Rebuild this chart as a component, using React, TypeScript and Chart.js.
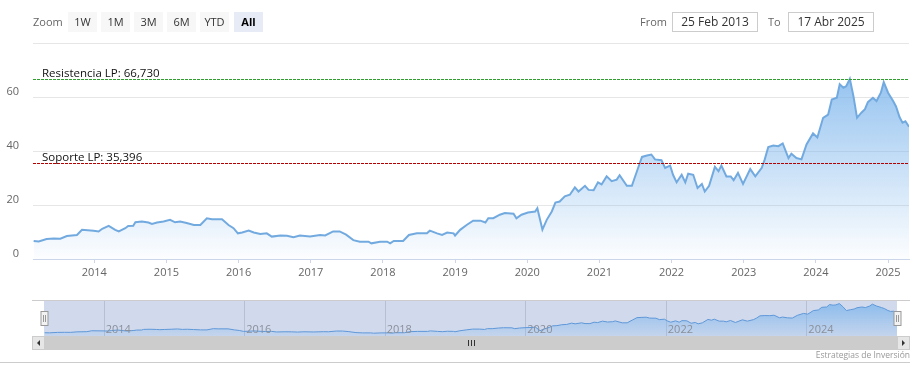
import React, { useEffect, useRef } from 'react';
import { Chart, registerables } from 'chart.js';

Chart.register(...registerables);

// ---- data (decimal years and prices) ----
const years = [
  2013.16, 2013.23, 2013.34, 2013.44, 2013.53, 2013.62, 2013.76, 2013.83, 2013.99,
  2014.06, 2014.11, 2014.20, 2014.29, 2014.34, 2014.43, 2014.47, 2014.54, 2014.57, 2014.66, 2014.75, 2014.80, 2014.87, 2014.96,
  2015.05, 2015.12, 2015.19, 2015.28, 2015.38, 2015.47, 2015.56, 2015.63, 2015.77, 2015.86, 2015.93, 2015.99,
  2016.05, 2016.14, 2016.21, 2016.30, 2016.39, 2016.46, 2016.58, 2016.67, 2016.76, 2016.85, 2016.99,
  2017.13, 2017.20, 2017.31, 2017.40, 2017.49, 2017.59, 2017.68, 2017.80, 2017.84, 2017.96,
  2018.06, 2018.10, 2018.15, 2018.28, 2018.36, 2018.47, 2018.61, 2018.65, 2018.75, 2018.82, 2018.89, 2018.98,
  2019.00, 2019.07, 2019.16, 2019.25, 2019.35, 2019.42, 2019.46, 2019.53, 2019.62, 2019.69, 2019.81, 2019.85, 2019.92,
  2020.01, 2020.11, 2020.14, 2020.21, 2020.27, 2020.34, 2020.39, 2020.45, 2020.52, 2020.59, 2020.66, 2020.71, 2020.80, 2020.85, 2020.92, 2020.98,
  2021.03, 2021.10, 2021.17, 2021.24, 2021.28, 2021.38, 2021.45, 2021.52, 2021.59, 2021.66, 2021.72, 2021.77, 2021.86, 2021.91, 2021.98,
  2022.02, 2022.07, 2022.14, 2022.19, 2022.23, 2022.30, 2022.36, 2022.42, 2022.46, 2022.52, 2022.60, 2022.65, 2022.69, 2022.76, 2022.82, 2022.86, 2022.92, 2022.99,
  2023.09, 2023.16, 2023.25, 2023.29, 2023.34, 2023.41, 2023.48, 2023.54, 2023.62, 2023.66, 2023.73, 2023.80, 2023.87, 2023.96,
  2024.02, 2024.10, 2024.17, 2024.22, 2024.29, 2024.33, 2024.38, 2024.42, 2024.47, 2024.52, 2024.57, 2024.63, 2024.68, 2024.72, 2024.79, 2024.84, 2024.90, 2024.94,
  2025.00, 2025.07, 2025.11, 2025.16, 2025.20, 2025.24, 2025.29,
];
const prices = [
  6.7, 6.5, 7.4, 7.6, 7.5, 8.5, 8.9, 10.8, 10.5,
  10.2, 11.2, 12.3, 10.8, 10.2, 11.4, 12.2, 12.3, 13.6, 13.9, 13.5, 13.0, 13.5, 13.9,
  14.5, 13.6, 13.9, 13.3, 12.6, 12.6, 15.1, 14.7, 14.7, 12.6, 11.4, 9.5,
  9.8, 10.5, 9.8, 9.3, 9.5, 8.3, 8.7, 8.6, 8.1, 8.7, 8.3,
  8.9, 8.7, 10.2, 10.2, 9.0, 7.0, 6.4, 6.4, 5.8, 6.4,
  6.4, 5.8, 6.7, 6.7, 8.9, 9.5, 9.5, 10.5, 9.5, 8.9, 9.8, 9.5,
  8.7, 10.8, 12.6, 14.2, 14.2, 13.5, 15.1, 15.1, 16.4, 17.0, 16.8, 15.1, 16.4,
  17.2, 17.6, 18.8, 10.9, 14.5, 17.6, 20.9, 21.3, 23.2, 23.8, 26.5, 25.0, 27.1, 25.6, 25.5, 28.4,
  27.6, 30.6, 28.8, 29.4, 31.0, 27.1, 27.1, 32.5, 37.8, 38.3, 38.7, 36.9, 36.6, 33.7, 34.6,
  31.2, 28.4, 31.2, 28.4, 31.6, 31.2, 26.3, 27.8, 25.0, 27.1, 34.1, 32.5, 34.6, 30.6, 30.6, 29.2, 31.9, 27.8,
  33.3, 30.6, 33.8, 36.8, 41.5, 42.0, 41.8, 42.8, 37.4, 39.0, 37.4, 36.9, 42.4, 46.5,
  45.0, 52.3, 53.5, 59.1, 59.7, 64.7, 63.4, 64.0, 66.7, 60.3, 52.3, 54.2, 55.5, 58.1, 59.7, 58.5, 61.6, 65.5,
  61.6, 58.5, 56.5, 52.5, 50.5, 51.0, 49.0,
];

const yTickValues = [0, 20, 40, 60, 80];
const xTickYears = [2014, 2015, 2016, 2017, 2018, 2019, 2020, 2021, 2022, 2023, 2024, 2025];
const navigatorYears = [2014, 2016, 2018, 2020, 2022, 2024];
const resistanceValue = 66.73;
const supportValue = 35.396;
const resistanceLabel = 'Resistencia LP: 66,730';
const supportLabel = 'Soporte LP: 35,396';
const rangeStart = 2013.151; // 25 Feb 2013
const rangeEnd = 2025.29; // 17 Apr 2025
const zoomButtons = ['1W', '1M', '3M', '6M', 'YTD', 'All'];
const fromText = '25 Feb 2013';
const toText = '17 Abr 2025';
const creditText = 'Estrategias de Inversión';

const FONT = '"Open Sans", "DejaVu Sans", sans-serif';

function makePoints() {
  return years.map((x, i) => ({ x, y: prices[i] }));
}

function areaGradient(ctx: any, top: number, bottom: number) {
  const chart = ctx.chart;
  const a = chart.chartArea;
  if (!a) return 'rgba(124,181,236,0.4)';
  const g = chart.ctx.createLinearGradient(0, a.top, 0, a.bottom);
  g.addColorStop(0, `rgba(124,181,236,${top})`);
  g.addColorStop(1, `rgba(124,181,236,${bottom})`);
  return g;
}

const plotLinesPlugin = {
  id: 'plotLines',
  afterDatasetsDraw(chart: any) {
    const { ctx, chartArea: a, scales } = chart;
    const lines = [
      { v: resistanceValue, color: '#2f9e2f', label: resistanceLabel },
      { v: supportValue, color: '#b30000', label: supportLabel },
    ];
    ctx.save();
    for (const l of lines) {
      const y = Math.round(scales.y.getPixelForValue(l.v)) + 0.5;
      ctx.setLineDash([3, 1]);
      ctx.strokeStyle = l.color;
      ctx.lineWidth = 1;
      ctx.beginPath();
      ctx.moveTo(a.left, y);
      ctx.lineTo(a.right, y);
      ctx.stroke();
      ctx.setLineDash([]);
      ctx.fillStyle = '#111';
      ctx.font = `11.5px ${FONT}`;
      ctx.textAlign = 'left';
      ctx.textBaseline = 'alphabetic';
      ctx.fillText(l.label, a.left + 9, y - 3);
    }
    ctx.restore();
  },
};

const navigatorPlugin = {
  id: 'navigatorDecor',
  beforeDatasetsDraw(chart: any) {
    const { ctx, chartArea: a, scales } = chart;
    ctx.save();
    ctx.strokeStyle = '#cccccc';
    ctx.lineWidth = 1;
    ctx.beginPath();
    ctx.moveTo(32, a.top - 0.5);
    ctx.lineTo(910, a.top - 0.5);
    ctx.stroke();
    ctx.fillStyle = 'rgba(102,133,194,0.3)';
    ctx.fillRect(a.left, a.top, a.right - a.left, a.bottom - a.top);
    ctx.strokeStyle = 'rgba(150,160,180,0.45)';
    for (const yr of navigatorYears) {
      const x = Math.round(scales.x.getPixelForValue(yr)) + 0.5;
      ctx.beginPath();
      ctx.moveTo(x, a.top);
      ctx.lineTo(x, a.bottom);
      ctx.stroke();
    }
    ctx.restore();
  },
  afterDatasetsDraw(chart: any) {
    const { ctx, chartArea: a, scales } = chart;
    ctx.save();
    ctx.fillStyle = '#8a8f99';
    ctx.font = `11px ${FONT}`;
    ctx.textAlign = 'left';
    ctx.textBaseline = 'alphabetic';
    for (const yr of navigatorYears) {
      const x = scales.x.getPixelForValue(yr);
      ctx.fillText(String(yr), x + 2, a.bottom - 3);
    }
    ctx.restore();
  },
  afterDraw(chart: any) {
    const { ctx, chartArea: a } = chart;
    ctx.save();
    const sTop = a.bottom;
    const sH = 14;
    ctx.fillStyle = '#f2f2f2';
    ctx.fillRect(32, sTop, 878, sH);
    ctx.fillStyle = '#cccccc';
    ctx.fillRect(45, sTop, 852, sH);
    const btn = (x: number, dir: number) => {
      ctx.fillStyle = '#e6e6e6';
      ctx.fillRect(x, sTop, 13, sH);
      ctx.strokeStyle = '#cccccc';
      ctx.strokeRect(x + 0.5, sTop + 0.5, 12, sH - 1);
      ctx.fillStyle = '#333';
      const cx = x + 6.5;
      const cy = sTop + sH / 2;
      ctx.beginPath();
      ctx.moveTo(cx - 1.5 * dir, cy);
      ctx.lineTo(cx + 1.5 * dir, cy - 3);
      ctx.lineTo(cx + 1.5 * dir, cy + 3);
      ctx.closePath();
      ctx.fill();
    };
    btn(32, 1);
    btn(897, -1);
    ctx.strokeStyle = '#333';
    ctx.lineWidth = 1;
    const gx = 471;
    for (const dx of [-2.5, 0.5, 3.5]) {
      ctx.beginPath();
      ctx.moveTo(gx + dx, sTop + 4);
      ctx.lineTo(gx + dx, sTop + 10);
      ctx.stroke();
    }
    const handle = (x: number) => {
      const hx = Math.round(x) + 0.5;
      ctx.fillStyle = '#f2f2f2';
      ctx.fillRect(hx - 3.5, a.top + 10, 7, 14);
      ctx.strokeStyle = '#999999';
      ctx.strokeRect(hx - 3.5, a.top + 10.5, 7, 14);
      ctx.beginPath();
      ctx.moveTo(hx - 1, a.top + 14);
      ctx.lineTo(hx - 1, a.top + 21);
      ctx.moveTo(hx + 1, a.top + 14);
      ctx.lineTo(hx + 1, a.top + 21);
      ctx.stroke();
    };
    handle(a.left);
    handle(a.right);
    ctx.strokeStyle = '#cccccc';
    ctx.beginPath();
    ctx.moveTo(0, sTop + 26.5);
    ctx.lineTo(910, sTop + 26.5);
    ctx.stroke();
    ctx.restore();
  },
};

export default function App() {
  const mainRef = useRef<HTMLCanvasElement>(null);
  const navRef = useRef<HTMLCanvasElement>(null);

  useEffect(() => {
    const tickFont = { family: FONT, size: 11 };
    const main = new Chart(mainRef.current as HTMLCanvasElement, {
      type: 'line',
      data: {
        datasets: [
          {
            data: makePoints(),
            borderColor: '#72aae0',
            borderWidth: 2,
            pointRadius: 0,
            tension: 0,
            fill: 'origin',
            backgroundColor: (ctx: any) => areaGradient(ctx, 0.95, 0.02),
          },
        ],
      },
      options: {
        responsive: false,
        animation: false,
        events: [],
        layout: { padding: { top: 43, right: 11, left: 0, bottom: 0 } },
        plugins: { legend: { display: false }, tooltip: { enabled: false } },
        scales: {
          x: {
            type: 'linear',
            min: rangeStart,
            max: rangeEnd,
            afterBuildTicks: (s: any) => {
              s.ticks = xTickYears.map((v) => ({ value: v }));
            },
            afterFit: (s: any) => {
              s.height = 31;
            },
            grid: { drawOnChartArea: false, drawTicks: true, tickLength: 4, color: '#ccd6eb' },
            border: { color: '#ccd6eb' },
            ticks: {
              padding: 3,
              color: '#666',
              font: tickFont,
              maxRotation: 0,
              autoSkip: false,
              callback: (v: any) => String(v),
            },
          },
          y: {
            min: 0,
            max: 80,
            afterBuildTicks: (s: any) => {
              s.ticks = yTickValues.map((v) => ({ value: v }));
            },
            afterFit: (s: any) => {
              s.width = 33;
            },
            grid: { color: '#e6e6e6', drawTicks: false },
            border: { display: false },
            ticks: {
              padding: 14,
              labelOffset: -5,
              color: '#666',
              font: tickFont,
              callback: (v: any) => (v === 80 ? '' : String(v)),
            },
          },
        },
      },
      plugins: [plotLinesPlugin],
    } as any);

    const nav = new Chart(navRef.current as HTMLCanvasElement, {
      type: 'line',
      data: {
        datasets: [
          {
            data: makePoints(),
            borderColor: '#5e97d8',
            borderWidth: 1,
            pointRadius: 0,
            tension: 0,
            fill: 'origin',
            backgroundColor: (ctx: any) => areaGradient(ctx, 0.85, 0.15),
          },
        ],
      },
      options: {
        responsive: false,
        animation: false,
        events: [],
        layout: { padding: { top: 11, right: 23, left: 44, bottom: 44 } },
        plugins: { legend: { display: false }, tooltip: { enabled: false } },
        scales: {
          x: { type: 'linear', min: rangeStart, max: rangeEnd, display: false },
          y: { min: 0, max: 72, display: false },
        },
      },
      plugins: [navigatorPlugin],
    } as any);

    return () => {
      main.destroy();
      nav.destroy();
    };
  }, []);

  const btnLefts = [68, 101, 134, 167, 200, 234];
  const textBase: React.CSSProperties = {
    position: 'absolute',
    fontFamily: FONT,
    fontSize: 11,
    lineHeight: '20px',
    whiteSpace: 'nowrap',
  };

  return (
    <div
      style={{
        position: 'absolute',
        left: 0,
        top: 0,
        width: 920,
        height: 380,
        background: '#fff',
        overflow: 'hidden',
      }}
    >
      <canvas ref={mainRef} width={920} height={290} style={{ position: 'absolute', left: 0, top: 0 }} />
      <canvas ref={navRef} width={920} height={90} style={{ position: 'absolute', left: 0, top: 290 }} />

      <div style={{ ...textBase, left: 33, top: 12, color: '#666' }}>Zoom</div>
      {zoomButtons.map((b, i) => (
        <div
          key={b}
          style={{
            ...textBase,
            left: btnLefts[i],
            top: 12,
            width: 29,
            height: 20,
            textAlign: 'center',
            background: b === 'All' ? '#e6ebf5' : '#f7f7f7',
            color: b === 'All' ? '#000' : '#333',
            fontWeight: b === 'All' ? 'bold' : 'normal',
          }}
        >
          {b}
        </div>
      ))}

      <div style={{ ...textBase, left: 640, top: 12, color: '#666' }}>From</div>
      <div
        style={{
          ...textBase,
          left: 672,
          top: 12,
          width: 86,
          height: 20,
          boxSizing: 'border-box',
          border: '1px solid #cccccc',
          lineHeight: '18px',
          textAlign: 'center',
          color: '#333',
          fontSize: 12,
        }}
      >
        {fromText}
      </div>
      <div style={{ ...textBase, left: 768, top: 12, color: '#666' }}>To</div>
      <div
        style={{
          ...textBase,
          left: 788,
          top: 12,
          width: 86,
          height: 20,
          boxSizing: 'border-box',
          border: '1px solid #cccccc',
          lineHeight: '18px',
          textAlign: 'center',
          color: '#333',
          fontSize: 12,
        }}
      >
        {toText}
      </div>

      <div
        style={{
          ...textBase,
          right: 10,
          top: 349,
          fontSize: 8.5,
          lineHeight: '12px',
          color: '#999',
        }}
      >
        {creditText}
      </div>
    </div>
  );
}
